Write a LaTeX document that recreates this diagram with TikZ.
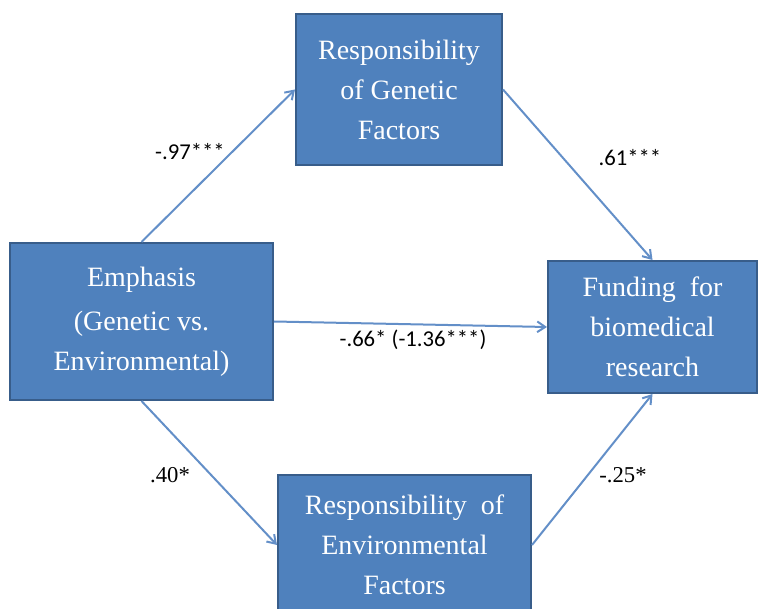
\documentclass[tikz,border=0pt]{standalone}
\usepackage{fontspec}
\setmainfont{Liberation Serif}
\newfontfamily\calfont{Carlito}
\usetikzlibrary{arrows.meta}
\definecolor{boxfill}{HTML}{4F81BD}
\definecolor{boxline}{HTML}{385D8A}
\definecolor{arrowblue}{HTML}{638FC8}

\begin{document}
\begin{tikzpicture}[x=0.75pt, y=-0.75pt, >={Straight Barb[length=6pt,width=8pt]}]
      \tikzset{
  factor/.style={
    rectangle,
    draw=boxline,
    fill=boxfill,
    line width=1.5pt,
    text=white,
    align=center,
    font=\fontsize{21}{30}\selectfont
  },
  path arrow/.style={
    ->,
    draw=arrowblue,
    line width=1.5pt
  },
  coef sans/.style={font=\calfont\fontsize{17}{20}\selectfont},
  coef serif/.style={font=\fontsize{17}{20}\selectfont}
}

\useasboundingbox (0,0) rectangle (758,609);
\clip (0,0) rectangle (758,609);

% boxes
\node [factor, minimum width=154.5pt, minimum height=113.25pt] (genetic) at (399,89.5)
  {Responsibility\\ of Genetic\\ Factors};
\node [factor, minimum width=197.25pt, minimum height=117.75pt] (emphasis) at (141.5,321.5)
  {Emphasis\\[3pt] (Genetic vs.\\ Environmental)};
\node [factor, minimum width=156.75pt, minimum height=99pt] (funding) at (652.5,327)
  {Funding\ \ for\\ biomedical\\ research};
\node [factor, minimum width=189.75pt, minimum height=105pt] (environ) at (404.5,545)
  {Responsibility\ \ of\\ Environmental\\ Factors};

% paths
\draw [path arrow] (emphasis.north) -- (genetic.west);
\draw [path arrow] (genetic.east) -- (funding.north);
\draw [path arrow] (emphasis.east) -- (funding.west);
\draw [path arrow] (emphasis.south) -- (environ.west);
\draw [path arrow] (environ.east) -- (funding.south);

% coefficients
\node [coef sans] (c-genetic) at (190,152) {-.97***};
\node [coef sans] (c-funding) at (630,158) {.61***};
\node [coef sans] (c-direct) at (413,340) {-.66* (-1.36***)};
\node [coef serif] (c-environ) at (170,475) {.40*};
\node [coef serif] (c-envfund) at (623,475) {-.25*};
    \end{tikzpicture}
\end{document}
